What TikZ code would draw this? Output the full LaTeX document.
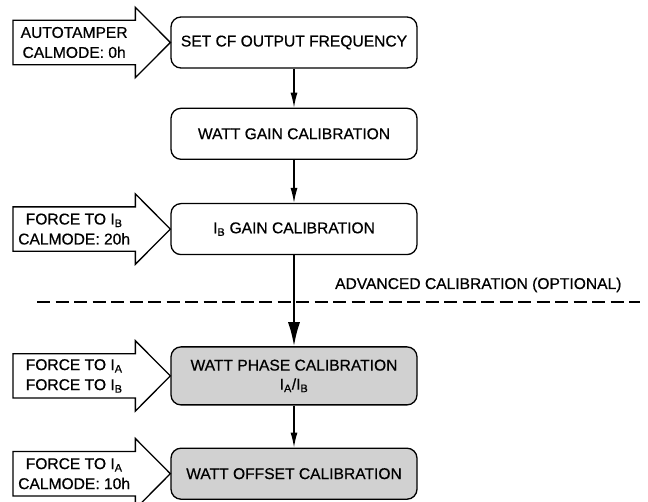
\documentclass[tikz,border=0pt]{standalone}
\usepackage{fontspec}
\setmainfont{Liberation Sans}[FakeBold=0.6]
\usetikzlibrary{positioning,arrows.meta,calc}
\definecolor{cgray}{gray}{0.82}
\tikzset{
  step box/.style={draw, rounded corners=10pt, line width=1.3pt, minimum width=246pt, minimum height=51pt, align=center, font=\fontsize{15.6}{19}\selectfont},
  opt box/.style={step box, fill=cgray},
  tag/.style={minimum width=122pt, minimum height=44pt, inner sep=0pt, align=center, font=\fontsize{15.6}{20}\selectfont},
  fatarrow/.style={draw, line width=1.3pt, line join=miter},
  flow/.style={-{Latex[length=15pt,width=7pt]}, line width=1.3pt},
  bigflow/.style={-{Latex[length=24pt,width=12pt]}, line width=2pt},
}
\newcommand{\sub}[1]{\textsubscript{#1}}

\begin{document}
\begin{tikzpicture}[x=1pt, y=1pt]
  \useasboundingbox (0,0) rectangle (648,-502);
  % main calibration steps
  \node[step box] (setcf) at (294,-42.5) {SET CF OUTPUT FREQUENCY};
  \node[step box, below=39pt of setcf] (wgain) {WATT GAIN CALIBRATION};
  \node[step box, below=43pt of wgain] (ibgain) {I\sub{B} GAIN CALIBRATION};
  \node[opt box, minimum height=58pt, below=91pt of ibgain] (wphase) {WATT PHASE CALIBRATION\\I\sub{A}/I\sub{B}};
  \node[opt box, below=42pt of wphase] (woffset) {WATT OFFSET CALIBRATION};

  % mode tags in front of the steps
  \node[tag, left=35pt of setcf] (mode0) {AUTOTAMPER\\CALMODE: 0h};
  \node[tag, left=35pt of ibgain] (mode20) {FORCE TO I\sub{B}\\CALMODE: 20h};
  \node[tag, left=35pt of wphase] (forceab) {FORCE TO I\sub{A}\\FORCE TO I\sub{B}};
  \node[tag, left=35pt of woffset] (mode10) {FORCE TO I\sub{A}\\CALMODE: 10h};
  \foreach \t/\b in {mode0/setcf, mode20/ibgain, forceab/wphase, mode10/woffset}
    \draw[fatarrow] (\t.south west) -- (\t.north west) -- (\t.north east) -- ++(0,13)
      -- (\b.west) -- ($(\t.south east)+(0,-13)$) -- (\t.south east) -- cycle;

  % optional part below the line
  \coordinate (dl) at (37,-302);
  \coordinate (dr) at (640,-302);
  \draw[line width=2.5pt, dash pattern=on 13pt off 5.5pt] (dl) -- (dr);
  \node[anchor=base east, font=\fontsize{15.6}{17}\selectfont] (advtxt) at (625,-289) {ADVANCED CALIBRATION (OPTIONAL)};

  \draw[flow] (setcf) -- (wgain);
  \draw[flow] (wgain) -- (ibgain);
  \draw[bigflow] (ibgain) -- (wphase);
  \draw[flow] (wphase) -- (woffset);
\end{tikzpicture}
\end{document}
